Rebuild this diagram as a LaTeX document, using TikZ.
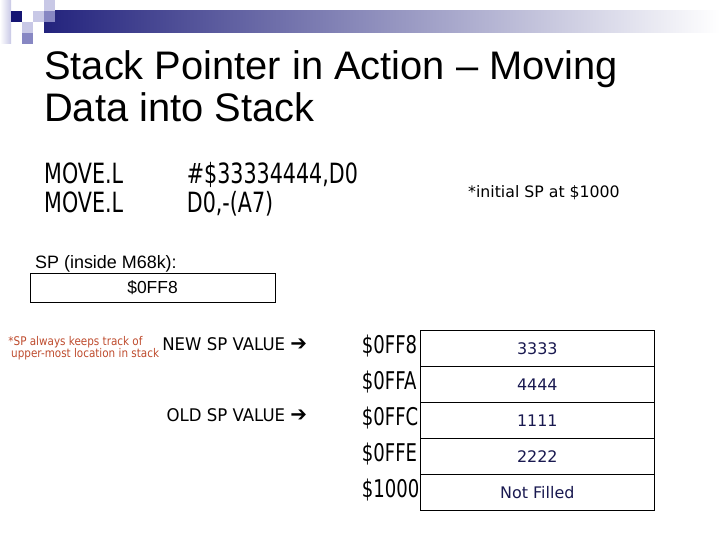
\documentclass[tikz,border=0pt]{standalone}
\usepackage{fontspec}
\setmainfont{Liberation Sans}
\newfontfamily\tahomaN[FakeStretch=0.74]{DejaVu Sans}
\newfontfamily\tahomaM[FakeStretch=0.95]{DejaVu Sans}
\newfontfamily\tahomaS[FakeStretch=0.87]{DejaVu Sans}
\newfontfamily\tahoma{DejaVu Sans}

\definecolor{navy}{RGB}{20,20,115}
\definecolor{navybar}{RGB}{35,35,125}
\definecolor{lilac}{RGB}{200,200,230}
\definecolor{midlilac}{RGB}{135,135,195}
\definecolor{notered}{RGB}{190,75,45}
\definecolor{valblue}{RGB}{25,25,80}

\tikzset{
	title/.style={anchor=base west, inner sep=0pt, font=\fontsize{40}{47}\selectfont},
	code/.style={anchor=base west, inner sep=0pt, font=\tahomaN\fontsize{28}{34}\selectfont},
	addr/.style={anchor=base west, inner sep=0pt, font=\tahomaN\fontsize{24.5}{30}\selectfont},
	cell/.style={draw, line width=0.8bp, minimum width=233.3bp, minimum height=36bp, inner sep=0pt, text=valblue, font=\tahoma\fontsize{16}{19}\selectfont},
	ptr/.style={anchor=base east, inner sep=0pt, font=\tahomaM\fontsize{17.5}{21}\selectfont},
	note/.style={anchor=base west, inner sep=0pt, text height=8bp, text depth=2bp, text=notered, font=\tahomaS\fontsize{12}{14}\selectfont}
}
\newcommand{\ptrarrow}{{\fontsize{21}{21}\selectfont ➔}}

\begin{document}
\begin{tikzpicture}[x=1bp, y=-1bp]
	\useasboundingbox (0,0) rectangle (720,540);
	
	% corner squares and bar
	\shade[left color=white, right color=lilac] (0,0) rectangle (11,44);
	\shade[left color=navybar, right color=white] (44,11) rectangle (720,33);
	\fill[navy] (11,11) rectangle (22,22);
	\fill[lilac] (22,22) rectangle (33,33);
	\fill[midlilac] (22,33) rectangle (33,44);
	\fill[lilac] (33,11) rectangle (44,22);
	\fill[lilac] (44,0) rectangle (55,11);
	\fill[midlilac] (44,11) rectangle (55,22);
	
	\node[title] (t1) at (44,79.5) {Stack Pointer in Action – Moving};
	\node[title] (t2) at (44,122) {Data into Stack};
	
	\node[code] (m1) at (44,183.3) {MOVE.L};
	\node[code] (m2) at (44,212.3) {MOVE.L};
	\node[code] (o1) at (186.7,183.3) {\#\$33334444,D0};
	\node[code] (o2) at (186.7,212.3) {D0,-(A7)};
	\node[anchor=base west, inner sep=0pt, font=\tahoma\fontsize{15.8}{18}\selectfont] (init) at (468,197.5) {*initial SP at \$1000};
	
	\node[anchor=base west, inner sep=0pt, font=\fontsize{18}{21}\selectfont] (splabel) at (35,268.3) {SP (inside M68k):};
	\node[draw, line width=0.8bp, minimum width=245bp, minimum height=29bp, inner sep=0pt, font=\fontsize{17.5}{21}\selectfont] (sp) at (152.5,287.8) {\$0FF8};
	
	\node[note] (note1) at (8.3,345.5) {*SP always keeps track of};
	\node[note] (note2) at (11,357.5) {upper-most location in stack};
	
	\node[ptr] (newsp) at (307.3,350.7) {NEW SP VALUE \ptrarrow};
	\node[ptr] (oldsp) at (307.3,421.7) {OLD SP VALUE \ptrarrow};
	
	\foreach \addr/\val [count=\i] in {\$0FF8/3333, \$0FFA/4444, \$0FFC/1111, \$0FFE/2222, \$1000/Not Filled}{
		\node[cell] (c\i) at (537.3,{312.7+36*\i}) {\val};
		\node[addr] (a\i) at (361.7,{317.3+36*\i}) {\addr};
	}
\end{tikzpicture}
\end{document}
